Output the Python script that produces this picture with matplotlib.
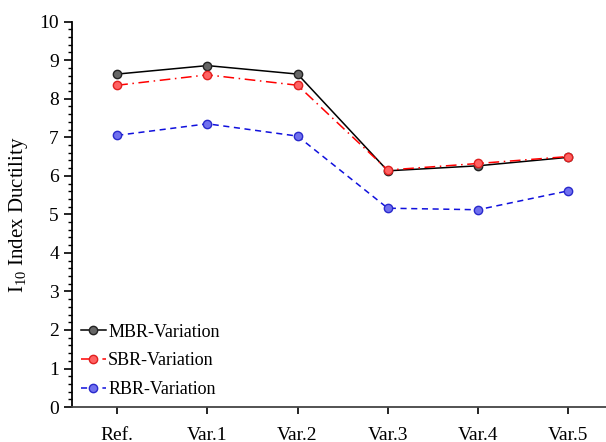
import matplotlib.pyplot as plt
from matplotlib.ticker import MultipleLocator

plt.rcParams['font.family'] = ['Liberation Serif', 'DejaVu Serif']
plt.rcParams['mathtext.fontset'] = 'custom'
plt.rcParams['mathtext.rm'] = 'Liberation Serif'

cases = ["Ref.", "Var.1", "Var.2", "Var.3", "Var.4", "Var.5"]
mbr = [8.64, 8.86, 8.64, 6.13, 6.26, 6.48]
sbr = [8.35, 8.62, 8.35, 6.15, 6.32, 6.50]
rbr = [7.05, 7.35, 7.03, 5.16, 5.12, 5.61]

fig = plt.figure(figsize=(6.06, 4.42), dpi=100)
ax = fig.add_axes([0.119, 0.079, 0.881, 0.872])

x = range(len(cases))
ax.plot(x, mbr, color="black", ls="-", lw=1.1, marker="o", ms=6,
        mfc="#666666", mec="#222222", label="MBR-Variation")
ax.plot(x, sbr, color="red", ls=(0, (7, 3, 1, 3)), lw=1.1, marker="o", ms=6,
        mfc="#ff6262", mec="#e02020", label="SBR-Variation")
ax.plot(x, rbr, color="#1010dd", ls=(0, (4, 3)), lw=1.1, marker="o", ms=6,
        mfc="#7070ee", mec="#2a2acc", label="RBR-Variation")

ax.set_xlim(-0.5, 5.42)
ax.set_ylim(0, 10)
ax.set_xticks(list(x))
ax.set_xticklabels(cases, fontsize=14)
ax.yaxis.set_major_locator(MultipleLocator(1))
ax.yaxis.set_minor_locator(MultipleLocator(0.2))
ax.tick_params(axis="y", labelsize=14, direction="out", length=6, width=1.2)
ax.tick_params(axis="y", which="minor", direction="out", length=3, width=1)
ax.tick_params(axis="x", direction="out", length=5, width=1.2, pad=9)
ax.set_ylabel("I$_{10}$ Index Ductility", fontsize=15, labelpad=7)

ax.spines["top"].set_visible(False)
ax.spines["right"].set_visible(False)
ax.spines["left"].set_linewidth(1.3)
ax.spines["bottom"].set_linewidth(1.3)
ax.spines["bottom"].set_color("#444444")

ax.legend(loc="lower left", frameon=False, fontsize=13, handlelength=1.35,
          handletextpad=0.15, labelspacing=0.65, borderaxespad=0.2,
          borderpad=0.3)

fig.savefig("out.png", dpi=100)
